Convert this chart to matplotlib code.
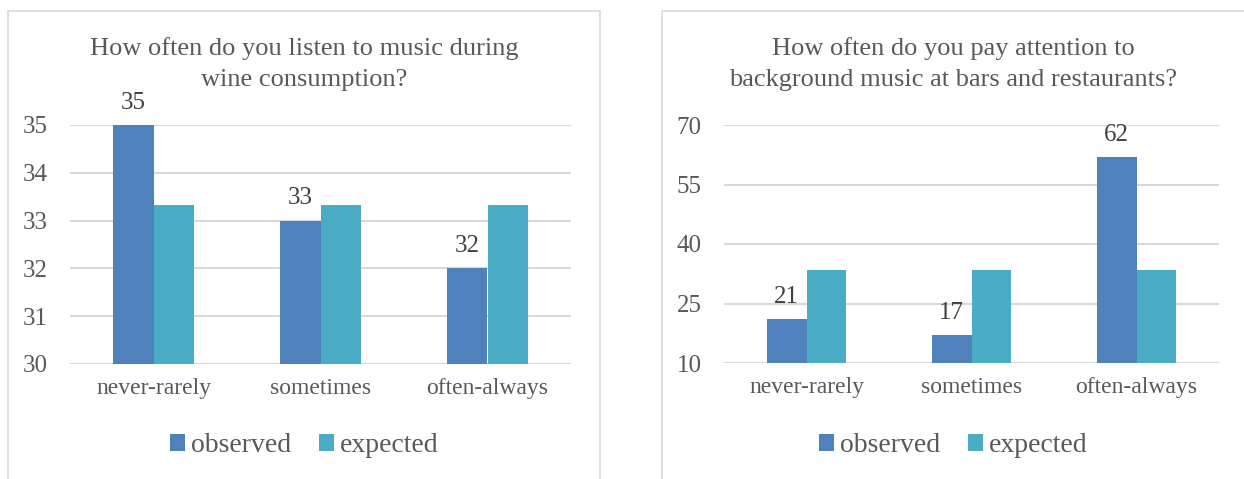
import matplotlib.pyplot as plt
from matplotlib.patches import Rectangle
import numpy as np

# Survey answers, observed counts against the uniform expectation

categories = ['never-rarely', 'sometimes', 'often-always']

listen_observed = [35, 33, 32]
listen_expected = [100 / 3, 100 / 3, 100 / 3]

attention_observed = [21, 17, 62]
attention_expected = [100 / 3, 100 / 3, 100 / 3]

titles = ['How often do you listen to music during\nwine consumption?',
          'How often do you pay attention to\nbackground music at bars and restaurants?']

plt.rcParams['font.family'] = ['Liberation Serif', 'DejaVu Serif']

c_obs = '#4F81BD'
c_exp = '#4BACC6'
c_txt = '#595959'
c_grid = '#D9D9D9'

W, H = 1244, 479
fig = plt.figure(figsize=(W / 100, H / 100), dpi=100)


def px(x0, y0, x1, y1):
    return [x0 / W, 1 - y1 / H, (x1 - x0) / W, (y1 - y0) / H]


def panel(rect, observed, expected, ylim, yticks, title, cx):
    ax = fig.add_axes(rect)
    x = np.arange(len(categories))
    bw = 0.24
    bars = ax.bar(x - bw / 2, observed, bw, color=c_obs, label='observed', zorder=3)
    ax.bar(x + bw / 2, expected, bw, color=c_exp, label='expected', zorder=3)
    for b, v in zip(bars, observed):
        ax.annotate(f'{v:d}', (b.get_x() + b.get_width() / 2, v),
                    xytext=(0, 8), textcoords='offset points',
                    ha='center', va='bottom', fontsize=18, color='#404040')
    ax.set_xlim(-0.5, len(categories) - 0.5)
    ax.set_ylim(*ylim)
    ax.set_yticks(yticks)
    ax.set_xticks(x)
    ax.set_xticklabels(categories)
    ax.tick_params(axis='y', length=0, pad=16, labelsize=18, labelcolor=c_txt)
    ax.tick_params(axis='x', length=0, pad=10, labelsize=17, labelcolor=c_txt)
    ax.grid(axis='y', color=c_grid, lw=1.5, zorder=0)
    ax.set_axisbelow(True)
    for s in ax.spines.values():
        s.set_visible(False)
    ax.patch.set_alpha(0)
    fig.text(cx / W, 1 - 64 / H, title, ha='center', va='center',
             fontsize=19, color=c_txt, linespacing=1.55)
    h, l = ax.get_legend_handles_labels()
    fig.legend(h, l, loc='center', bbox_to_anchor=(cx / W, 1 - 446 / H), ncol=2,
               frameon=False, fontsize=20, handlelength=0.55, handleheight=0.55,
               handletextpad=0.2, columnspacing=1.0, labelcolor=c_txt)
    return ax


# Panel frames
fig.add_artist(Rectangle((8 / W, -0.05), (600 - 8) / W, 1.05 - 11 / H,
                         transform=fig.transFigure, fill=False, ec=c_grid, lw=1.2))
fig.add_artist(Rectangle((662 / W, -0.05), 0.5, 1.05 - 11 / H,
                         transform=fig.transFigure, fill=False, ec=c_grid, lw=1.2))

panel(px(70, 125, 571, 364), listen_observed, listen_expected,
      (30, 35), [30, 31, 32, 33, 34, 35], titles[0], 304)
panel(px(724, 125, 1219, 363), attention_observed, attention_expected,
      (10, 70), [10, 25, 40, 55, 70], titles[1], 953)

fig.savefig('out.png', dpi=100)
